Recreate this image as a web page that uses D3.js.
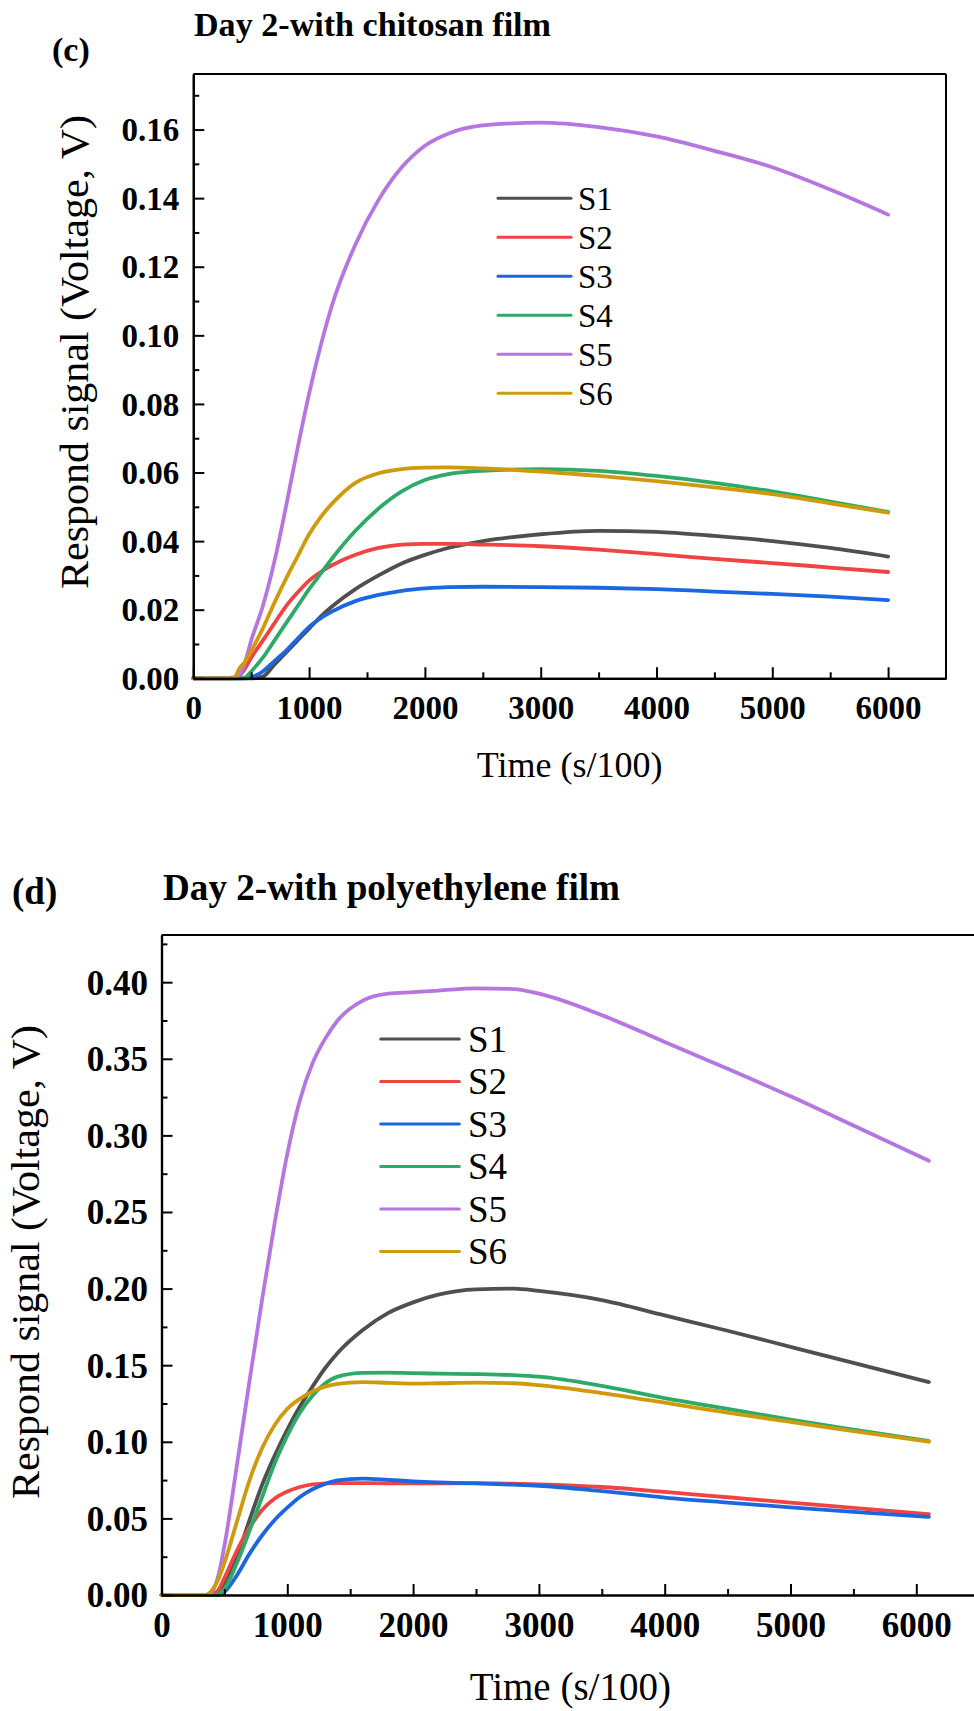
<!DOCTYPE html>
<html>
<head>
<meta charset="utf-8">
<script src="https://cdn.jsdelivr.net/npm/d3@7"></script>
<style>
  html, body { margin: 0; padding: 0; background: #ffffff; }
  svg { display: block; }
</style>
</head>
<body>
<svg id="chart" width="974" height="1711"></svg>
<script>
// ---------------- DATA ----------------
const seriesNames = ["S1", "S2", "S3", "S4", "S5", "S6"];
const seriesColors = ["#4f4f4f", "#f04342", "#1a67df", "#2eaa68", "#b576e2", "#cf9b0c"];

// Panel (c): Day 2 - with chitosan film
const timeC = [0, 200, 350, 400, 450, 500, 600, 700, 800, 900, 1000, 1100, 1200, 1400, 1600, 1800, 2000, 2200, 2500, 3000, 3500, 4000, 4500, 5000, 5500, 6000];
const c_S1 = [0, 0, 0, 0, 0, 0, 0.0005, 0.004, 0.0075, 0.011, 0.0145, 0.018, 0.021, 0.026, 0.030, 0.0335, 0.036, 0.038, 0.040, 0.042, 0.043, 0.0427, 0.0415, 0.040, 0.038, 0.0355];
const c_S2 = [0, 0, 0, 0.0008, 0.003, 0.006, 0.011, 0.016, 0.021, 0.025, 0.0285, 0.031, 0.033, 0.036, 0.038, 0.039, 0.0392, 0.0392, 0.039, 0.0385, 0.0375, 0.0362, 0.0348, 0.0336, 0.0323, 0.031];
const c_S3 = [0, 0, 0, 0, 0, 0.0003, 0.002, 0.005, 0.008, 0.0115, 0.015, 0.0175, 0.0195, 0.0225, 0.0243, 0.0255, 0.0262, 0.0266, 0.0267, 0.0266, 0.0264, 0.026, 0.0253, 0.0246, 0.0238, 0.0228];
const c_S4 = [0, 0, 0, 0, 0.0003, 0.002, 0.006, 0.011, 0.016, 0.021, 0.026, 0.0305, 0.035, 0.043, 0.0495, 0.0545, 0.0578, 0.0595, 0.0605, 0.061, 0.0605, 0.059, 0.057, 0.0545, 0.0515, 0.0485];
const c_S5 = [0, 0, 0.0003, 0.001, 0.005, 0.011, 0.021, 0.034, 0.050, 0.067, 0.083, 0.097, 0.109, 0.1265, 0.1395, 0.149, 0.1553, 0.1588, 0.1612, 0.162, 0.1607, 0.158, 0.1538, 0.149, 0.1425, 0.1352];
const c_S6 = [0, 0, 0, 0.003, 0.005, 0.008, 0.0145, 0.022, 0.029, 0.0355, 0.042, 0.047, 0.051, 0.057, 0.0598, 0.061, 0.0614, 0.0615, 0.0612, 0.0603, 0.059, 0.0575, 0.0557, 0.0537, 0.051, 0.0483];

// Panel (d): Day 2 - with polyethylene film
const timeD = [0, 200, 350, 400, 450, 500, 600, 700, 800, 900, 1000, 1100, 1200, 1300, 1400, 1600, 1800, 2000, 2200, 2500, 2800, 3000, 3500, 4000, 4500, 5000, 5500, 6100];
const d_S1 = [0, 0, 0, 0, 0.002, 0.007, 0.025, 0.049, 0.072, 0.091, 0.108, 0.123, 0.136, 0.148, 0.158, 0.173, 0.184, 0.191, 0.196, 0.1995, 0.200, 0.1985, 0.1925, 0.1825, 0.1725, 0.162, 0.1515, 0.139];
const d_S2 = [0, 0, 0, 0.0005, 0.003, 0.011, 0.029, 0.044, 0.0555, 0.063, 0.0675, 0.0705, 0.0722, 0.0728, 0.073, 0.073, 0.0729, 0.0728, 0.0729, 0.073, 0.0726, 0.0722, 0.0705, 0.0673, 0.0638, 0.0603, 0.0568, 0.0528];
const d_S3 = [0, 0, 0, 0, 0, 0.002, 0.013, 0.027, 0.039, 0.049, 0.057, 0.064, 0.069, 0.0725, 0.0748, 0.076, 0.0752, 0.0742, 0.0735, 0.0728, 0.072, 0.0713, 0.0678, 0.0636, 0.0603, 0.0572, 0.0543, 0.051];
const d_S4 = [0, 0, 0, 0, 0.0005, 0.004, 0.021, 0.042, 0.064, 0.086, 0.104, 0.119, 0.130, 0.138, 0.1425, 0.145, 0.1452, 0.1448, 0.1445, 0.1442, 0.1435, 0.1425, 0.1365, 0.1285, 0.1215, 0.1145, 0.108, 0.1005];
const d_S5 = [0, 0, 0, 0.002, 0.012, 0.032, 0.085, 0.14, 0.193, 0.243, 0.288, 0.323, 0.347, 0.363, 0.375, 0.388, 0.3925, 0.3935, 0.3945, 0.396, 0.3955, 0.3925, 0.3785, 0.361, 0.3435, 0.3255, 0.3065, 0.2835];
const d_S6 = [0, 0, 0, 0.003, 0.01, 0.021, 0.048, 0.075, 0.096, 0.111, 0.1215, 0.128, 0.1328, 0.136, 0.1378, 0.139, 0.1385, 0.138, 0.1382, 0.1386, 0.1382, 0.137, 0.1318, 0.1255, 0.119, 0.113, 0.107, 0.100];

// Tick values
const xMajorTicks = [0, 1000, 2000, 3000, 4000, 5000, 6000];
const xMinorTicks = [500, 1500, 2500, 3500, 4500, 5500];
const yMajorTicksC = [0, 0.02, 0.04, 0.06, 0.08, 0.10, 0.12, 0.14, 0.16];
const yMinorTicksC = [0.01, 0.03, 0.05, 0.07, 0.09, 0.11, 0.13, 0.15, 0.17];
const yMajorTicksD = [0, 0.05, 0.10, 0.15, 0.20, 0.25, 0.30, 0.35, 0.40];
const yMinorTicksD = [0.025, 0.075, 0.125, 0.175, 0.225, 0.275, 0.325, 0.375, 0.425];

const titleC = "Day 2-with chitosan film";
const titleD = "Day 2-with polyethylene film";
const xTitle = "Time (s/100)";
const yTitle = "Respond signal (Voltage, V)";

// ---------------- DRAW ----------------
const FONT = '"Liberation Serif"';
const svg = d3.select("#chart");
svg.append("rect").attr("width", 974).attr("height", 1711).attr("fill", "#fff");

function drawPanel(p) {
  const g = svg.append("g");
  const x = d3.scaleLinear().domain(p.xDomain).range([p.left, p.right]);
  const y = d3.scaleLinear().domain(p.yDomain).range([p.bottom, p.top]);

  const line = d3.line()
    .x(d => x(d[0]))
    .y(d => y(d[1]))
    .curve(d3.curveMonotoneX);
  p.series.forEach((vals, i) => {
    const pts = p.time.map((t, k) => [t, vals[k]]);
    g.append("path")
      .attr("d", line(pts))
      .attr("fill", "none")
      .attr("stroke", seriesColors[i])
      .attr("stroke-width", p.lineWidth)
      .attr("stroke-linejoin", "round")
      .attr("stroke-linecap", "round");
  });

  // Frame (top & right)
  g.append("line").attr("x1", p.left).attr("x2", p.right).attr("y1", p.top).attr("y2", p.top)
    .attr("stroke", "#000").attr("stroke-width", 2);
  g.append("line").attr("x1", p.right).attr("x2", p.right).attr("y1", p.top).attr("y2", p.bottom)
    .attr("stroke", "#000").attr("stroke-width", 2);

  const xMinor = g.append("g").attr("transform", `translate(0,${p.bottom})`)
    .call(d3.axisBottom(x).tickValues(xMinorTicks).tickSizeInner(-6).tickSizeOuter(0).tickFormat(""));
  const xMajor = g.append("g").attr("transform", `translate(0,${p.bottom})`)
    .call(d3.axisBottom(x).tickValues(xMajorTicks).tickSizeInner(-11).tickSizeOuter(0)
      .tickPadding(p.xPad).tickFormat(d3.format("d")));
  const yMinor = g.append("g").attr("transform", `translate(${p.left},0)`)
    .call(d3.axisLeft(y).tickValues(p.yMinor).tickSizeInner(-6).tickSizeOuter(0).tickFormat(""));
  const yMajor = g.append("g").attr("transform", `translate(${p.left},0)`)
    .call(d3.axisLeft(y).tickValues(p.yMajor).tickSizeInner(-11).tickSizeOuter(0)
      .tickPadding(p.yPad).tickFormat(d3.format(".2f")));

  [xMinor, xMajor, yMinor, yMajor].forEach(a => {
    a.attr("font-family", null);
    a.select(".domain").attr("stroke", "#000").attr("stroke-width", 2.2);
    a.selectAll(".tick line").attr("stroke", "#000").attr("stroke-width", 2);
    a.selectAll(".tick text")
      .style("font-family", FONT)
      .style("font-weight", "bold")
      .attr("fill", "#000");
  });
  xMajor.selectAll(".tick text").style("font-size", p.tickFont + "px");
  yMajor.selectAll(".tick text").style("font-size", p.tickFont + "px").attr("dy", "0.34em");

  // Axis titles
  g.append("text")
    .attr("x", (p.left + p.xTitleRight) / 2).attr("y", p.xTitleY)
    .attr("text-anchor", "middle")
    .style("font-family", FONT)
    .style("font-size", p.xTitleFont + "px")
    .text(xTitle);
  g.append("text")
    .attr("transform", `translate(${p.yTitleX},${p.yTitleCY}) rotate(-90)`)
    .attr("text-anchor", "middle")
    .attr("textLength", p.yTitleLen)
    .attr("lengthAdjust", "spacingAndGlyphs")
    .style("font-family", FONT)
    .style("font-size", p.yTitleFont + "px")
    .text(yTitle);

  // Panel label and title
  g.append("text")
    .attr("x", p.labelX).attr("y", p.labelY)
    .style("font-family", FONT)
    .style("font-size", p.labelFont + "px").style("font-weight", "bold")
    .text(p.label);
  g.append("text")
    .attr("x", p.titleX).attr("y", p.titleY)
    .attr("textLength", p.titleLen)
    .attr("lengthAdjust", "spacingAndGlyphs")
    .style("font-family", FONT)
    .style("font-size", p.titleFont + "px").style("font-weight", "bold")
    .text(p.title);

  // Legend
  seriesNames.forEach((name, i) => {
    const ly = p.legY + i * p.legStep;
    g.append("line")
      .attr("x1", p.legX1).attr("x2", p.legX2).attr("y1", ly).attr("y2", ly)
      .attr("stroke", seriesColors[i]).attr("stroke-width", 3).attr("stroke-linecap", "round");
    g.append("text")
      .attr("x", p.legTextX).attr("y", ly + 0.35 * p.legFont)
      .style("font-family", FONT)
      .style("font-size", p.legFont + "px")
      .text(name);
  });
}

drawPanel({
  time: timeC,
  series: [c_S1, c_S2, c_S3, c_S4, c_S5, c_S6],
  xDomain: [0, 6500], yDomain: [0, 0.1762],
  left: 193.3, right: 946, xTitleRight: 946, top: 74, bottom: 678.3,
  yMajor: yMajorTicksC, yMinor: yMinorTicksC,
  lineWidth: 3.8, tickFont: 33, xPad: 17, yPad: 14,
  xTitleY: 777, xTitleFont: 36,
  yTitleX: 88, yTitleCY: 352, yTitleLen: 474, yTitleFont: 40,
  label: "(c)", labelX: 52, labelY: 61, labelFont: 34,
  title: titleC, titleX: 194, titleY: 36, titleLen: 357, titleFont: 34,
  legX1: 498, legX2: 571, legTextX: 578, legY: 198.3, legStep: 39, legFont: 33
});

drawPanel({
  time: timeD,
  series: [d_S1, d_S2, d_S3, d_S4, d_S5, d_S6],
  xDomain: [0, 6500], yDomain: [0, 0.4308],
  left: 161.5, right: 979.2, xTitleRight: 979.2, top: 935, bottom: 1595,
  yMajor: yMajorTicksD, yMinor: yMinorTicksD,
  lineWidth: 3.8, tickFont: 35, xPad: 17, yPad: 13.5,
  xTitleY: 1700, xTitleFont: 39,
  yTitleX: 39, yTitleCY: 1262, yTitleLen: 474, yTitleFont: 40,
  label: "(d)", labelX: 12, labelY: 904, labelFont: 37,
  title: titleD, titleX: 163, titleY: 900, titleLen: 457, titleFont: 37,
  legX1: 380.7, legX2: 459.3, legTextX: 468, legY: 1039, legStep: 42.5, legFont: 37
});
</script>
</body>
</html>
